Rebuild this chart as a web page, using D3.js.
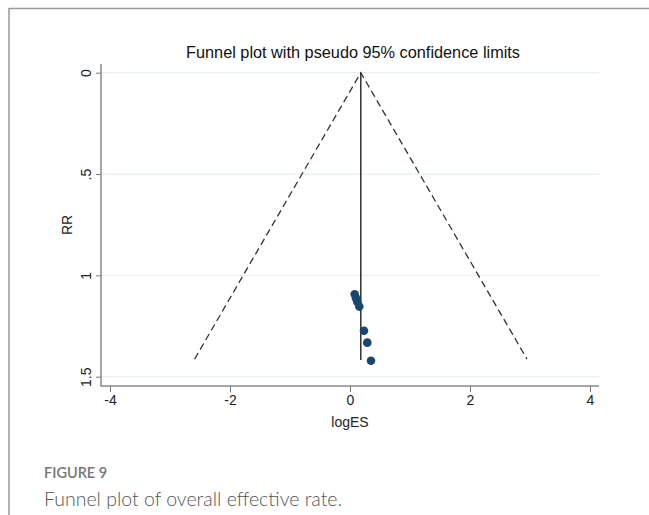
<!DOCTYPE html>
<html><head><meta charset="utf-8">
<script src="https://cdn.jsdelivr.net/npm/d3@7"></script>
<style>html,body{margin:0;padding:0;background:#fff;}</style>
</head><body>
<svg id="c" width="649" height="515"></svg>
<script>
// Data
const logES = [0.078, 0.100, 0.122, 0.155, 0.233, 0.288, 0.350];
const seRR  = [1.093, 1.113, 1.131, 1.154, 1.273, 1.332, 1.421];
const pooledES = 0.18;
const maxSE = 1.413;
const xTicks = [-4, -2, 0, 2, 4];
const yTicks = [0, 0.5, 1, 1.5];
const yTickLabels = ["0", ".5", "1", "1.5"];

(function(){
const svg = d3.select("#c");
const FONT = "'Liberation Sans', Arial, sans-serif";
// card border
svg.append("line").attr("x1",9).attr("y1",8.5).attr("x2",649).attr("y2",8.5).attr("stroke","#999").attr("stroke-width",1.5);
svg.append("line").attr("x1",9).attr("y1",8).attr("x2",9).attr("y2",515).attr("stroke","#999").attr("stroke-width",1.5);

const x = d3.scaleLinear().domain([-4, 4]).range([110, 590]);
const y = d3.scaleLinear().domain([0, 1.5]).range([72.7, 376.7]);
const pLeft = 101, pRight = 599, pTop = 64, pBottom = 386;

// grid
svg.append("g").selectAll("line").data(yTicks).join("line")
  .attr("x1", pLeft).attr("x2", pRight)
  .attr("y1", d => y(d)).attr("y2", d => y(d))
  .attr("stroke", "#e6eff1").attr("stroke-width", 1.3);

// y axis
const yAxis = svg.append("g").attr("transform", `translate(${pLeft},0)`)
  .call(d3.axisLeft(y).tickValues(yTicks).tickSize(5).tickSizeOuter(0).tickFormat((d,i)=>yTickLabels[i]))
  .attr("font-family", FONT).attr("font-size", 14);
yAxis.select(".domain").remove();
yAxis.selectAll(".tick line").attr("stroke","#777");
yAxis.selectAll(".tick text").attr("transform","rotate(-90)").attr("x",0).attr("y",-10)
  .attr("dy","0").attr("text-anchor","middle").attr("fill","#222");
svg.append("line").attr("x1",pLeft).attr("x2",pLeft).attr("y1",pTop).attr("y2",pBottom+0.5).attr("stroke","#888").attr("stroke-width",1.5);

// x axis
const xAxis = svg.append("g").attr("transform", `translate(0,${pBottom})`)
  .call(d3.axisBottom(x).tickValues(xTicks).tickSize(6).tickSizeOuter(0).tickFormat(d => String(d)))
  .attr("font-family", FONT).attr("font-size", 14);
xAxis.select(".domain").remove();
xAxis.selectAll(".tick line").attr("stroke","#777");
xAxis.selectAll(".tick text").attr("y",9).attr("dy","0.71em").attr("fill","#222");
svg.append("line").attr("x1",pLeft).attr("x2",pRight).attr("y1",pBottom).attr("y2",pBottom).attr("stroke","#888").attr("stroke-width",1.5);

// funnel
const funnel = [[pooledES - 1.96*maxSE, maxSE],[pooledES, 0],[pooledES + 1.96*maxSE, maxSE]];
svg.append("path").attr("d", d3.line().x(d=>x(d[0])).y(d=>y(d[1]))(funnel))
  .attr("fill","none").attr("stroke","#333").attr("stroke-width",1.3).attr("stroke-dasharray","7,4");
svg.append("line").attr("x1",x(pooledES)).attr("x2",x(pooledES)).attr("y1",y(0)).attr("y2",y(maxSE+0.005))
  .attr("stroke","#222").attr("stroke-width",1.4);

// points
svg.append("g").selectAll("circle").data(logES).join("circle")
  .attr("cx", d => x(d)).attr("cy", (d,i) => y(seRR[i])).attr("r", 4.3)
  .attr("fill", "#1a476f");

// titles
svg.append("text").attr("x",353).attr("y",58).attr("text-anchor","middle")
  .attr("font-family", FONT).attr("font-size",16.3).attr("fill","#111")
  .text("Funnel plot with pseudo 95% confidence limits");
svg.append("text").attr("x",350).attr("y",427).attr("text-anchor","middle")
  .attr("font-family", FONT).attr("font-size",14).attr("fill","#222")
  .text("logES");
svg.append("text").attr("transform","translate(72,225) rotate(-90)").attr("text-anchor","middle")
  .attr("font-family", FONT).attr("font-size",14).attr("fill","#222")
  .text("RR");

// caption
svg.append("text").attr("x",44).attr("y",478)
  .attr("font-family","Lato, sans-serif").attr("font-size",14.5).attr("font-weight",600).attr("fill","#777")
  .text("FIGURE 9");
svg.append("text").attr("x",44).attr("y",506)
  .attr("font-family","Lato, sans-serif").attr("font-size",19.5).attr("font-weight",300).attr("fill","#555")
  .text("Funnel plot of overall effective rate.");
})();
</script>
</body></html>
